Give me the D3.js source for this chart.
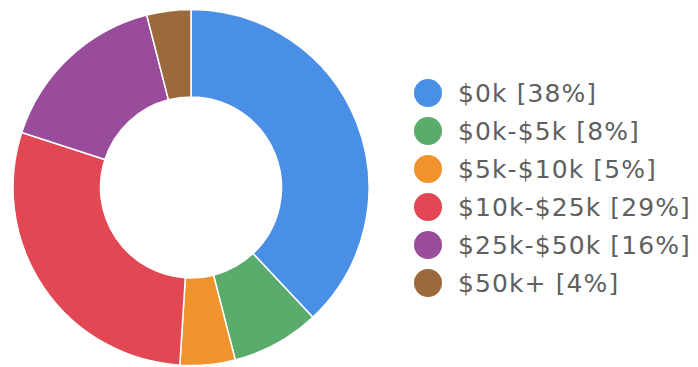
<!DOCTYPE html>
<html>
<head>
<meta charset="utf-8">
<script src="https://cdn.jsdelivr.net/npm/d3@7"></script>
<style>
  html, body { margin: 0; padding: 0; background: #fff; }
  svg { display: block; }
</style>
</head>
<body>
<svg id="chart" width="698" height="367"></svg>
<script>
// Income brackets and their share of respondents (percent)
const categories = ["$0k", "$0k-$5k", "$5k-$10k", "$10k-$25k", "$25k-$50k", "$50k+"];
const shares = [38, 8, 5, 29, 16, 4];
const colors = ["#4a8fe6", "#5aab6c", "#f0932c", "#e14853", "#9a4c9c", "#9a6a3c"];

const svg = d3.select("#chart");
const cx = 191, cy = 187.5, outerR = 178, innerR = 90.5;

const pie = d3.pie().sort(null).value(d => d.value);
const arc = d3.arc().innerRadius(innerR).outerRadius(outerR);
const data = categories.map((c, i) => ({ label: c, value: shares[i], color: colors[i] }));

svg.append("g")
  .attr("transform", `translate(${cx},${cy})`)
  .selectAll("path")
  .data(pie(data))
  .join("path")
  .attr("d", arc)
  .attr("fill", d => d.data.color)
  .attr("stroke", "#fff")
  .attr("stroke-width", 1.5);

// Legend
const legendY = d3.scalePoint().domain(categories).range([93, 283]);
const legend = svg.append("g");
const rows = legend.selectAll("g")
  .data(data)
  .join("g")
  .attr("transform", d => `translate(0,${legendY(d.label)})`);

rows.append("circle")
  .attr("cx", 428)
  .attr("cy", 0)
  .attr("r", 14)
  .attr("fill", d => d.color);

rows.append("text")
  .attr("x", 458)
  .attr("y", 0)
  .attr("dy", "0.36em")
  .attr("font-family", "'DejaVu Sans', sans-serif")
  .attr("font-size", 25)
  .attr("letter-spacing", 1.1)
  .attr("fill", "#606060")
  .text(d => `${d.label} [${d.value}%]`);
</script>
</body>
</html>
